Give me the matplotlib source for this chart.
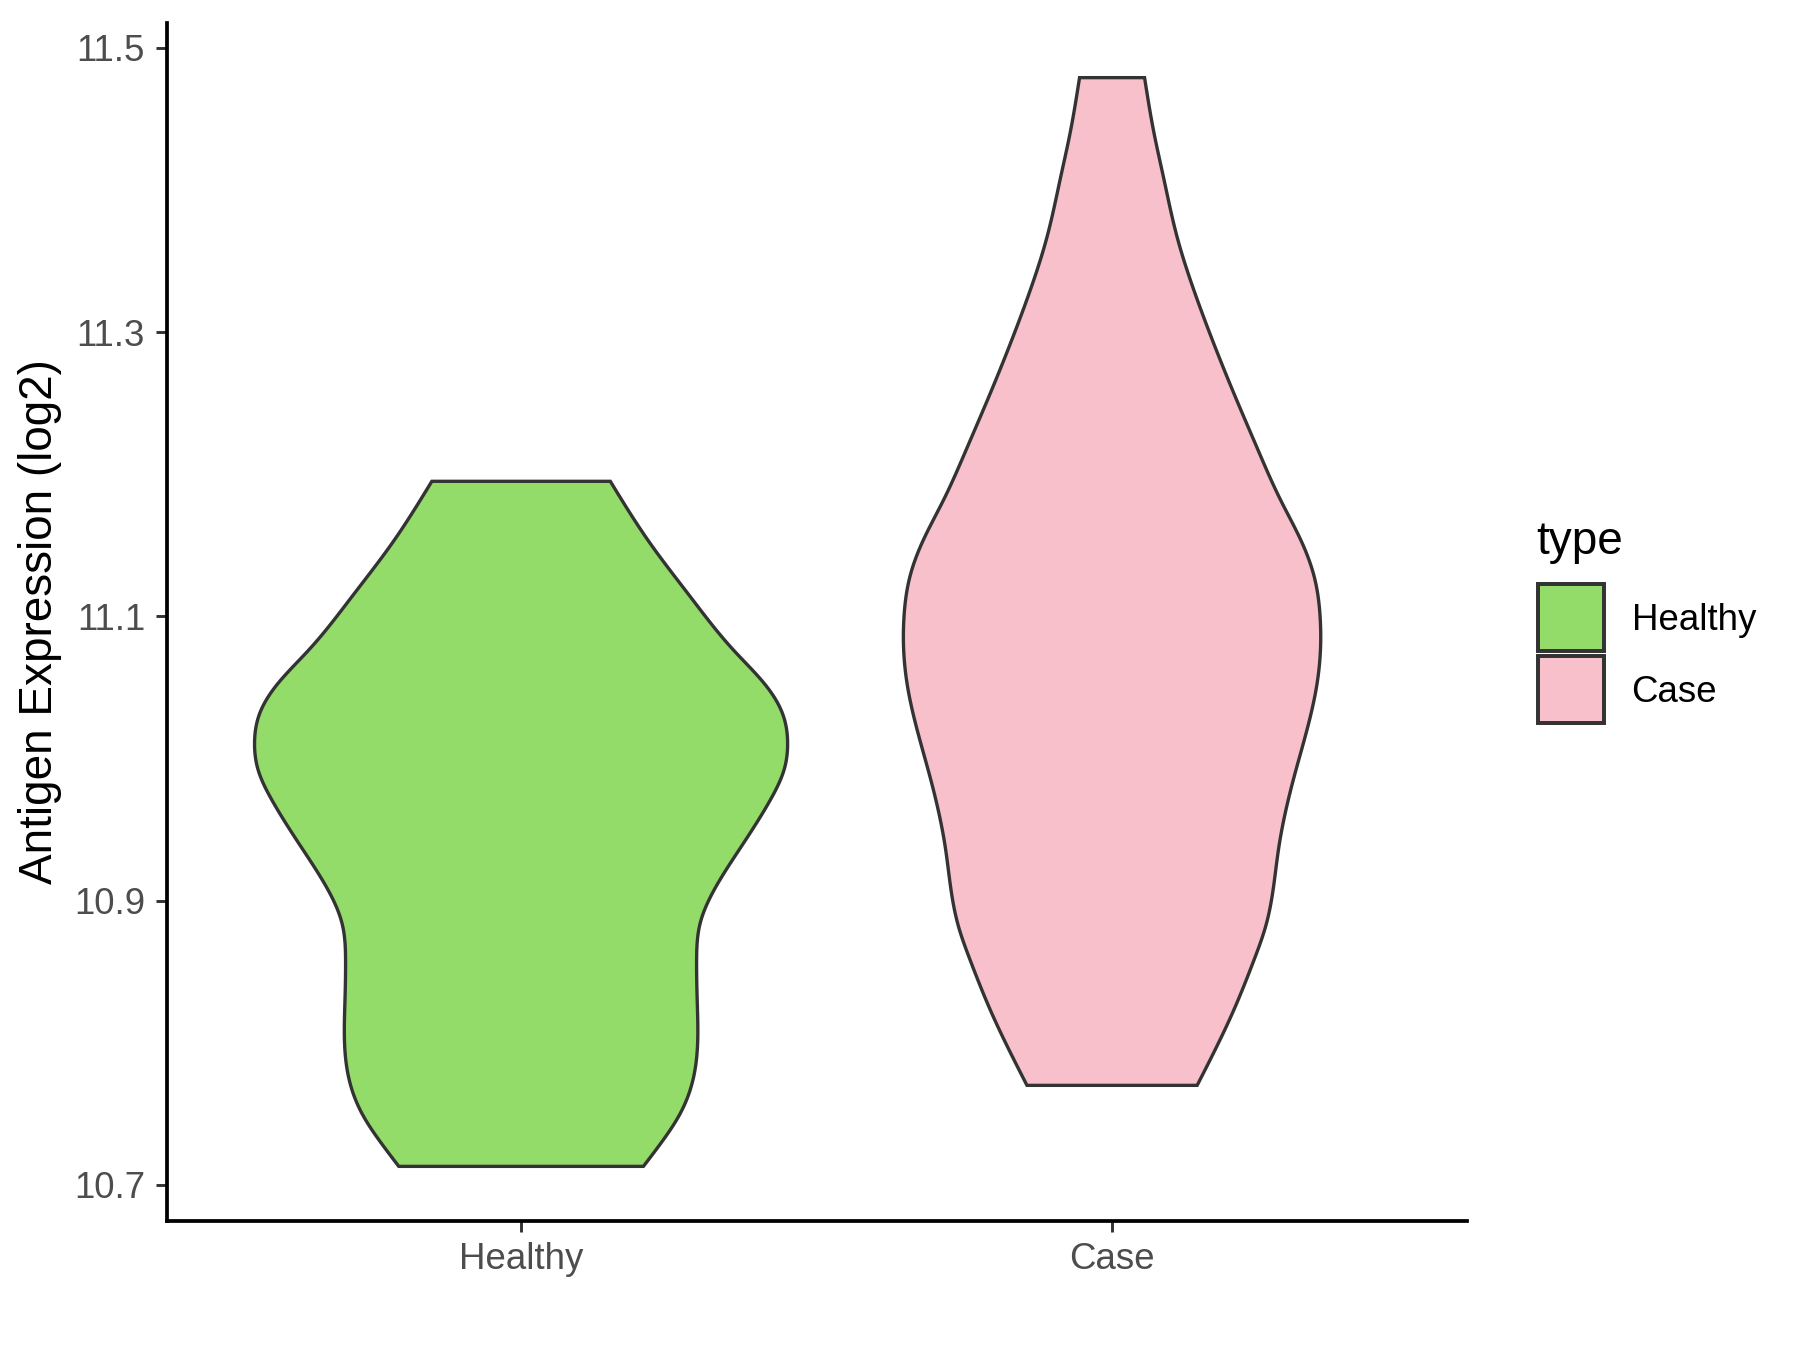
import numpy as np
import matplotlib
matplotlib.use("Agg")
import matplotlib.pyplot as plt
from matplotlib.patches import Rectangle

plt.rcParams['font.family'] = ['Liberation Sans', 'DejaVu Sans']

# ---------------- data ----------------
categories = ["Healthy", "Case"]
fill_colors = ["#94DC69", "#F7C0CB"]
legend_title = "type"
y_label = "Antigen Expression (log2)"

# violin outlines: y value and half-width (in category units), top -> bottom
healthy_y = [11.195, 11.151, 11.114, 11.076, 11.053, 11.032, 11.011, 10.992,
             10.971, 10.937, 10.907, 10.884, 10.858, 10.830, 10.804, 10.776,
             10.750, 10.729, 10.713]
healthy_halfwidth = [0.151, 0.219, 0.286, 0.360, 0.411, 0.442, 0.451, 0.445,
                     0.422, 0.371, 0.326, 0.303, 0.297, 0.298, 0.299, 0.292,
                     0.269, 0.236, 0.207]

case_y = [11.479, 11.440, 11.409, 11.367, 11.330, 11.292, 11.257, 11.218,
          11.182, 11.154, 11.128, 11.100, 11.081, 11.053, 11.022, 10.987,
          10.937, 10.912, 10.882, 10.858, 10.823, 10.793, 10.770]
case_halfwidth = [0.055, 0.071, 0.087, 0.110, 0.138, 0.172, 0.206, 0.246,
                  0.285, 0.319, 0.342, 0.352, 0.353, 0.347, 0.331, 0.308,
                  0.282, 0.274, 0.260, 0.240, 0.206, 0.172, 0.144]

y_ticks = [10.7, 10.9, 11.1, 11.3, 11.5]
y_tick_labels = ["10.7", "10.9", "11.1", "11.3", "11.5"]

outline_y = [healthy_y, case_y]
outline_hw = [healthy_halfwidth, case_halfwidth]


def smooth_outline(ys, hws, n=400):
    """Natural cubic spline through the read outline points (rendering only)."""
    x = np.asarray(ys, dtype=float)[::-1]
    y = np.asarray(hws, dtype=float)[::-1]
    m = len(x)
    h = np.diff(x)
    A = np.zeros((m, m))
    r = np.zeros(m)
    A[0, 0] = A[-1, -1] = 1.0
    for i in range(1, m - 1):
        A[i, i - 1] = h[i - 1]
        A[i, i] = 2 * (h[i - 1] + h[i])
        A[i, i + 1] = h[i]
        r[i] = 3 * ((y[i + 1] - y[i]) / h[i] - (y[i] - y[i - 1]) / h[i - 1])
    c = np.linalg.solve(A, r)
    b = (y[1:] - y[:-1]) / h - h * (2 * c[:-1] + c[1:]) / 3
    d = (c[1:] - c[:-1]) / (3 * h)
    xn = np.linspace(x[0], x[-1], n)
    idx = np.clip(np.searchsorted(x, xn) - 1, 0, m - 2)
    dx = xn - x[idx]
    yn = y[idx] + b[idx] * dx + c[idx] * dx ** 2 + d[idx] * dx ** 3
    return xn[::-1], yn[::-1]


# ---------------- figure ----------------
fig = plt.figure(figsize=(6, 4.5), dpi=300)
ax = fig.add_axes([0.0925, 0.0957, 0.8148 - 0.0925, 0.9828 - 0.0957])

positions = np.arange(1, len(categories) + 1)
for pos, ys, hws, col in zip(positions, outline_y, outline_hw, fill_colors):
    yy, hw = smooth_outline(ys, hws)
    xs = np.concatenate([pos + hw, (pos - hw)[::-1]])
    yv = np.concatenate([yy, yy[::-1]])
    ax.fill(xs, yv, facecolor=col, edgecolor="#333333", linewidth=0.8,
            joinstyle="miter", zorder=2)

# ggplot-like expansion
all_y = np.concatenate([healthy_y, case_y])
rng = all_y.max() - all_y.min()
ax.set_ylim(all_y.min() - 0.05 * rng, all_y.max() + 0.05 * rng)
ax.set_xlim(0.4, len(categories) + 0.6)

ax.set_xticks(positions)
ax.set_xticklabels(categories)
ax.set_yticks(y_ticks)
ax.set_yticklabels(y_tick_labels)

for side in ["top", "right"]:
    ax.spines[side].set_visible(False)
for side in ["left", "bottom"]:
    ax.spines[side].set_linewidth(0.9)
    ax.spines[side].set_color("black")

ax.tick_params(axis="both", which="major", length=2.75, width=0.7,
               color="#333333", labelcolor="#4D4D4D", labelsize=8.8, pad=2.4)

ax.set_ylabel(y_label, fontsize=11, color="black")
ax.yaxis.set_label_coords(-0.080, 0.5)

# ---------------- legend ----------------
fig.text(0.8536, 0.590, legend_title, fontsize=11, ha="left", va="baseline",
         color="black")
key_x, key_w, key_h = 0.8543, 0.0370, 0.0496
key_bottoms = [0.5178, 0.4646]
for lab, col, kb in zip(categories, fill_colors, key_bottoms):
    fig.add_artist(Rectangle((key_x, kb), key_w, key_h, transform=fig.transFigure,
                             facecolor=col, edgecolor="#333333", linewidth=0.95))
    fig.text(0.9064, kb + key_h / 2 - 0.002, lab, fontsize=8.8, ha="left",
             va="center", color="black")

fig.savefig("out.png", dpi=300, facecolor="white")
